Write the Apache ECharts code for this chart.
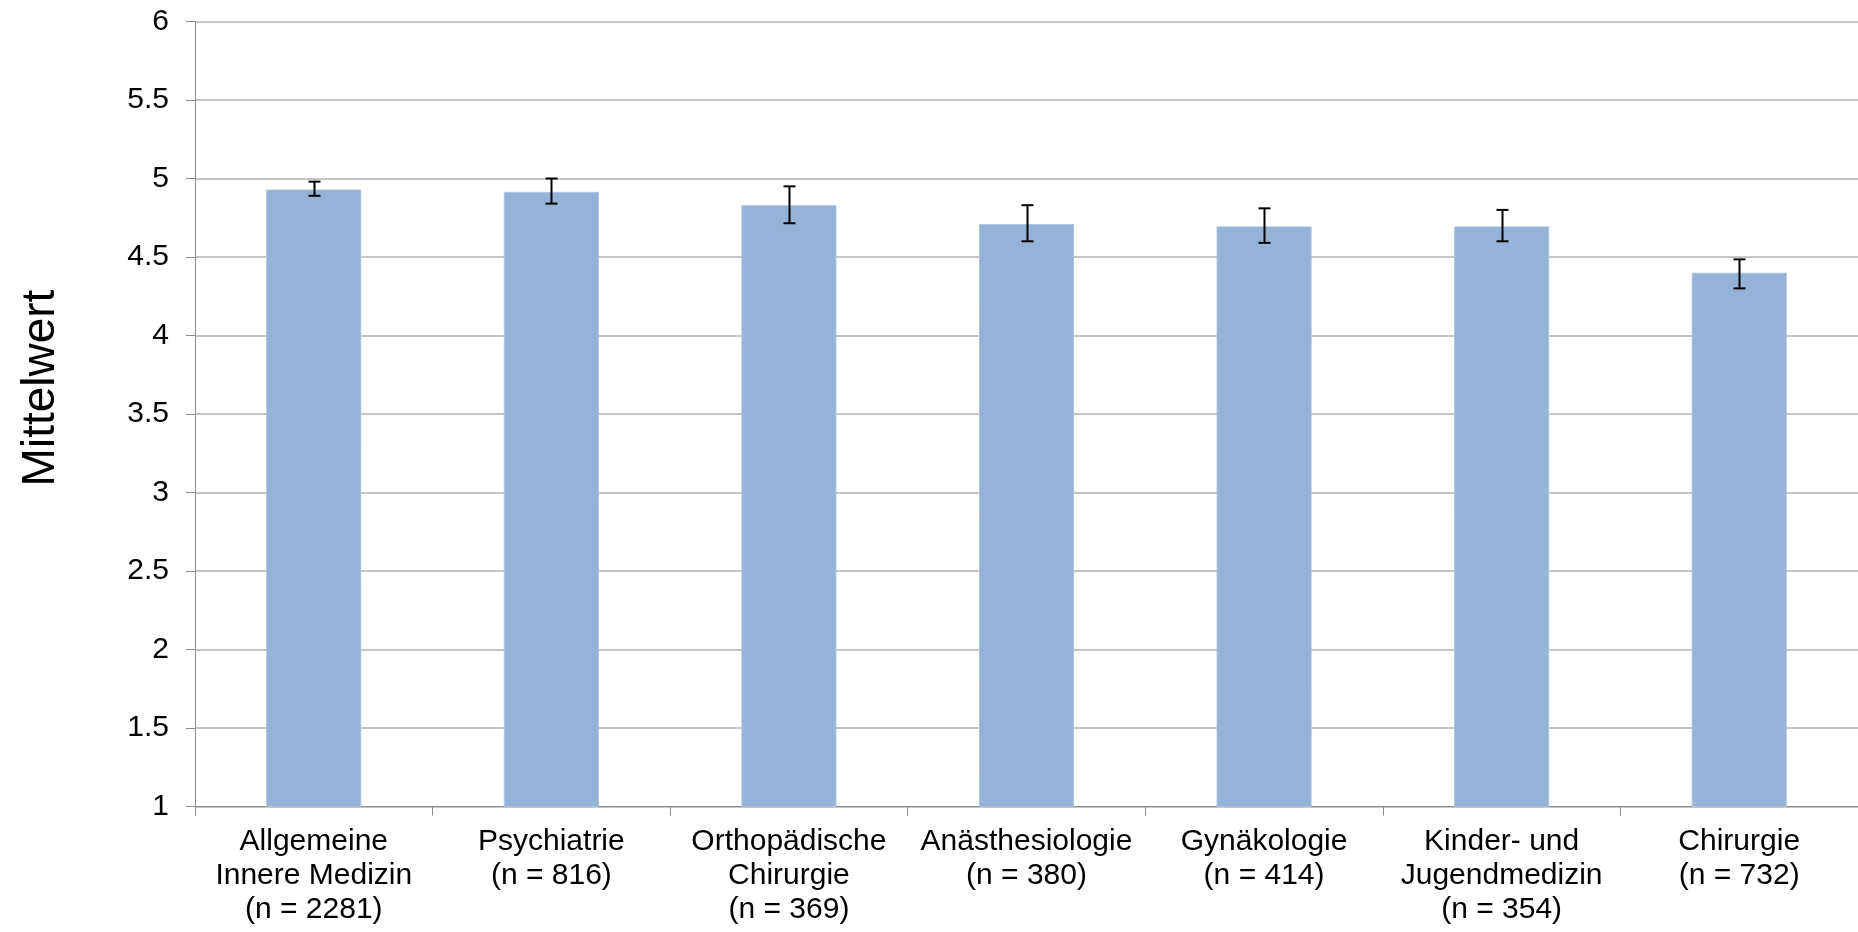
<!DOCTYPE html>
<html>
<head>
<meta charset="utf-8">
<script src="https://cdn.jsdelivr.net/npm/echarts@6/dist/echarts.min.js"></script>
<style>
html,body{margin:0;padding:0;background:#fff;}
#chart{width:1858px;height:932px;}
</style>
</head>
<body>
<div id="chart"></div>
<script>
const categories = [
  'Allgemeine\nInnere Medizin\n(n = 2281)',
  'Psychiatrie\n(n = 816)',
  'Orthopädische\nChirurgie\n(n = 369)',
  'Anästhesiologie\n(n = 380)',
  'Gynäkologie\n(n = 414)',
  'Kinder- und\nJugendmedizin\n(n = 354)',
  'Chirurgie\n(n = 732)'
];
const means   = [4.93, 4.915, 4.83, 4.71, 4.695, 4.695, 4.40];
const errLow  = [4.89, 4.84, 4.715, 4.60, 4.59, 4.60, 4.30];
const errHigh = [4.98, 5.00, 4.95, 4.83, 4.81, 4.80, 4.485];
const yTicks = { min: 1, max: 6, interval: 0.5 };
const yTitle = 'Mittelwert';

const FONT = '"Liberation Sans", Arial, sans-serif';
const chart = echarts.init(document.getElementById('chart'), null, { renderer: 'canvas' });

const errData = categories.map((c, i) => [i, errLow[i], errHigh[i]]);

chart.setOption({
  animation: false,
  backgroundColor: '#ffffff',
  grid: { left: 195, top: 21.5, width: 1671, height: 785, containLabel: false },
  graphic: [{
    type: 'text',
    rotation: Math.PI / 2,
    x: 41, y: 388,
    style: {
      text: yTitle,
      font: '46px ' + FONT,
      fill: '#000',
      align: 'center',
      verticalAlign: 'middle'
    }
  }],
  xAxis: {
    type: 'category',
    data: categories,
    boundaryGap: true,
    axisLine: { show: true, lineStyle: { color: '#8c8c8c', width: 1 } },
    axisTick: { show: true, interval: 0, length: 9, lineStyle: { color: '#8c8c8c' } },
    axisLabel: {
      interval: 0,
      margin: 18,
      color: '#000',
      fontFamily: FONT,
      fontSize: 30,
      lineHeight: 34
    },
    splitLine: { show: false }
  },
  yAxis: {
    type: 'value',
    min: yTicks.min,
    max: yTicks.max,
    interval: yTicks.interval,
    axisLine: { show: true, lineStyle: { color: '#8c8c8c', width: 1 } },
    axisTick: { show: true, length: 9, lineStyle: { color: '#8c8c8c' } },
    axisLabel: { color: '#000', fontFamily: FONT, fontSize: 30, margin: 26 },
    splitLine: { show: true, lineStyle: { color: '#b3b3b3', width: 1.5 } }
  },
  series: [
    {
      type: 'bar',
      data: means,
      barWidth: '40%',
      itemStyle: { color: '#95b3d7', borderColor: '#a9c3e0', borderWidth: 1 },
      z: 2
    },
    {
      type: 'custom',
      data: errData,
      z: 5,
      renderItem: function (params, api) {
        const x = api.value(0);
        const lo = api.coord([x, api.value(1)]);
        const hi = api.coord([x, api.value(2)]);
        const cx = Math.round(lo[0]) + 0.5;
        const half = 6;
        const st = { stroke: '#000', lineWidth: 2 };
        return {
          type: 'group',
          children: [
            { type: 'line', shape: { x1: cx, y1: hi[1], x2: cx, y2: lo[1] }, style: st },
            { type: 'line', shape: { x1: cx - half, y1: hi[1], x2: cx + half, y2: hi[1] }, style: st },
            { type: 'line', shape: { x1: cx - half, y1: lo[1], x2: cx + half, y2: lo[1] }, style: st }
          ]
        };
      }
    }
  ]
});
</script>
</body>
</html>
